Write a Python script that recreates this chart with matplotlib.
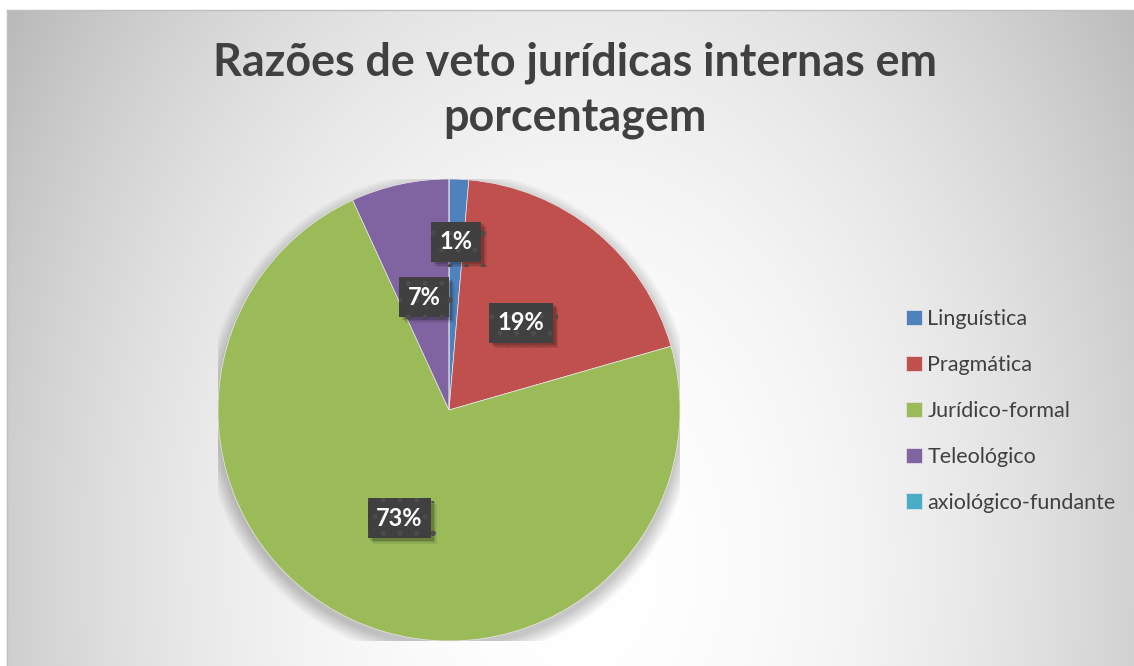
import numpy as np
from matplotlib import pyplot as plt
from matplotlib import patheffects as pe

plt.rcParams["font.family"] = ["Lato", "DejaVu Sans"]
plt.rcParams["hatch.linewidth"] = 1.2

# data (counts)
categories = ["Linguística", "Pragmática", "Jurídico-formal", "Teleológico", "axiológico-fundante"]
counts = [1, 14, 53, 5, 0]
colors = ["#4F81BD", "#C0504D", "#9BBB59", "#8064A2", "#4BACC6"]
label_dist = [0.73, 0.49, 0.515, 0.50, 0.5]

title_lines = ["Razões de veto jurídicas internas em", "porcentagem"]

W, H = 1134, 666
fig = plt.figure(figsize=(W / 100, H / 100), dpi=100)

# background: white margin + radial grey gradient
bg = fig.add_axes([0, 0, 1, 1])
bg.set_xlim(0, W)
bg.set_ylim(H, 0)
bg.axis("off")
yy, xx = np.mgrid[0:H, 0:W]
d2 = ((xx - 580) / 640.0) ** 2 + ((yy - 560) / 900.0) ** 2
val = 255 - 60 * np.clip(d2, 0, 1.3)
img = np.dstack([val, val, val]) / 255.0
img[:10, :, :] = 1.0
img[:, :7, :] = 1.0
bg.imshow(img, extent=(0, W, H, 0), interpolation="bilinear")
bg.plot([7, W], [10, 10], color="#bfbfbf", lw=1)
bg.plot([7, 7], [10, H], color="#bfbfbf", lw=1)

# title
for line, base in zip(title_lines, [75, 132]):
    fig.text(575 / W, 1 - base / H, line, ha="center", va="baseline",
             fontsize=32.3, fontweight="bold", color="#404040")

# pie
cx, cy, R = 449, 410, 231
ax = fig.add_axes([(cx - R) / W, (H - cy - R) / H, 2 * R / W, 2 * R / H])
ax.axis("off")

# soft blurred shadow round the pie
for a in np.linspace(1.06, 1.0, 14):
    ax.add_patch(plt.Circle((0.0, -0.025), a, color="black", alpha=0.016, lw=0))

wedges, _ = ax.pie(counts, colors=colors, startangle=90, counterclock=False,
                   radius=1, wedgeprops=dict(edgecolor="#e8e8e8", linewidth=0.5))
ax.set_xlim(-1, 1)
ax.set_ylim(-1, 1)

total = float(sum(counts))
for w, c, r in zip(wedges, counts, label_dist):
    if c == 0:
        continue
    ang = np.deg2rad((w.theta1 + w.theta2) / 2)
    t = ax.text(r * np.cos(ang), r * np.sin(ang), "{:.0f}%".format(100 * c / total),
                ha="center", va="center", fontsize=17, fontweight="bold", color="white",
                bbox=dict(boxstyle="square,pad=0.36", facecolor="#404040",
                          edgecolor="#4c4c4c", linewidth=0, hatch="."))
    t.get_bbox_patch().set_path_effects([
        pe.SimplePatchShadow(offset=(4, -4), shadow_rgbFace="black", alpha=0.08),
        pe.SimplePatchShadow(offset=(3, -3), shadow_rgbFace="black", alpha=0.12),
        pe.SimplePatchShadow(offset=(2, -2), shadow_rgbFace="black", alpha=0.15),
        pe.Normal()])

# legend
leg = fig.legend(wedges, categories, loc="center left",
                 bbox_to_anchor=(887 / W, 1 - 411 / H), frameon=False,
                 fontsize=15.5, labelspacing=1.2, handlelength=0.72,
                 handleheight=0.72, handletextpad=0.25)
for txt in leg.get_texts():
    txt.set_color("#404040")

fig.savefig("out.png", dpi=100)
plt.close()
